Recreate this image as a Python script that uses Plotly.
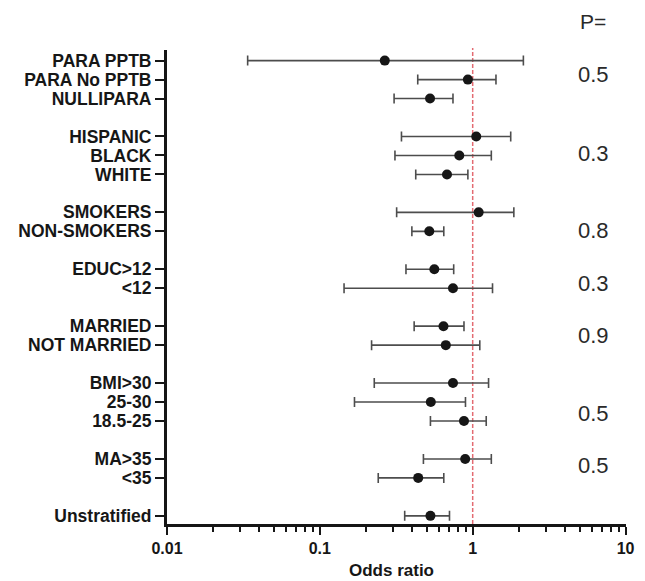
import plotly.graph_objects as go

# ---------------- data ----------------
group_labels = [
    ["PARA PPTB", "PARA No PPTB", "NULLIPARA"],
    ["HISPANIC", "BLACK", "WHITE"],
    ["SMOKERS", "NON-SMOKERS"],
    ["EDUC>12", "<12"],
    ["MARRIED", "NOT MARRIED"],
    ["BMI>30", "25-30", "18.5-25"],
    ["MA>35", "<35"],
    ["Unstratified"],
]
odds_ratio = [0.266, 0.93, 0.526, 1.055, 0.817, 0.679, 1.094, 0.52, 0.561, 0.743,
              0.644, 0.667, 0.743, 0.532, 0.877, 0.893, 0.44, 0.529]
ci_lower = [0.0337, 0.437, 0.306, 0.342, 0.31, 0.424, 0.318, 0.40, 0.366, 0.144,
            0.414, 0.218, 0.227, 0.1685, 0.529, 0.476, 0.241, 0.359]
ci_upper = [2.146, 1.42, 0.743, 1.773, 1.324, 0.93, 1.859, 0.647, 0.751, 1.348,
            0.877, 1.113, 1.27, 0.897, 1.226, 1.324, 0.647, 0.705]
p_values = ["0.5", "0.3", "0.8", "0.3", "0.9", "0.5", "0.5"]
x_tick_vals = [0.01, 0.1, 1, 10]
x_tick_text = ["0.01", "0.1", "1", "10"]

# ---------------- layout helpers ----------------
labels, rows = [], []
r = 0
for g in group_labels:
    for lab in g:
        labels.append(lab)
        rows.append(r)
        r += 1
    r += 1

p_rows = [0.75, 4.9, 8.96, 11.77, 14.49, 18.6, 21.33]

err_plus = [u - o for u, o in zip(ci_upper, odds_ratio)]
err_minus = [o - l for o, l in zip(odds_ratio, ci_lower)]

FONT = "Liberation Sans, Arial, Helvetica, sans-serif"
INK = "#161616"

fig = go.Figure()
fig.add_trace(go.Scatter(
    x=odds_ratio, y=rows, mode="markers",
    marker=dict(size=10, color=INK),
    error_x=dict(type="data", symmetric=False, array=err_plus, arrayminus=err_minus,
                 color="#4d4d4d", thickness=1.6, width=5),
    showlegend=False, hoverinfo="skip",
))

# reference line at OR = 1
fig.add_shape(type="line", xref="x", yref="paper", x0=1, x1=1, y0=0, y1=1.004,
              line=dict(color="#e36b72", width=1.5, dash="4px,2px"), layer="below")

minor_vals = [m * 10 ** e for e in (-2, -1, 0) for m in range(2, 10)]

fig.update_xaxes(
    type="log", range=[-2, 1.003],
    tickmode="array", tickvals=x_tick_vals, ticktext=x_tick_text,
    ticks="outside", ticklen=8, tickwidth=2, tickcolor=INK,
    showline=True, linewidth=3, linecolor=INK,
    showgrid=False, zeroline=False,
    tickfont=dict(family=FONT, size=16, color=INK, weight="bold"),
    minor=dict(tickvals=minor_vals, ticks="outside", ticklen=5, tickwidth=2,
               tickcolor=INK, showgrid=False),
)
fig.update_yaxes(
    range=[24.43, -0.56],
    tickmode="array", tickvals=rows, ticktext=labels,
    ticks="outside", ticklen=9, tickwidth=2, tickcolor=INK,
    showline=True, linewidth=3, linecolor=INK,
    showgrid=False, zeroline=False,
    tickfont=dict(family=FONT, size=17.5, color=INK, weight="bold"),
)

annotations = [
    dict(text="Odds ratio", xref="paper", yref="paper", x=0.49, y=-0.0985,
         xanchor="center", yanchor="middle", showarrow=False,
         font=dict(family=FONT, size=17, color=INK, weight="bold")),
    dict(text="P=", xref="paper", yref="paper", x=0.9286, y=1.0597,
         xanchor="center", yanchor="middle", showarrow=False,
         font=dict(family=FONT, size=21, color="#2a2a2a")),
]
for pv, pr in zip(p_values, p_rows):
    annotations.append(dict(text=pv, xref="paper", yref="y", x=0.9286, y=pr,
                            xanchor="center", yanchor="middle", showarrow=False,
                            font=dict(family=FONT, size=22, color="#2a2a2a")))

# the page body adds an 8px offset, so the figure is sized to fit inside the window
fig.update_layout(
    width=637, height=573,
    margin=dict(l=151, r=10, t=42, b=57),
    paper_bgcolor="white", plot_bgcolor="white",
    annotations=annotations,
)

fig.write_html("out.html")
